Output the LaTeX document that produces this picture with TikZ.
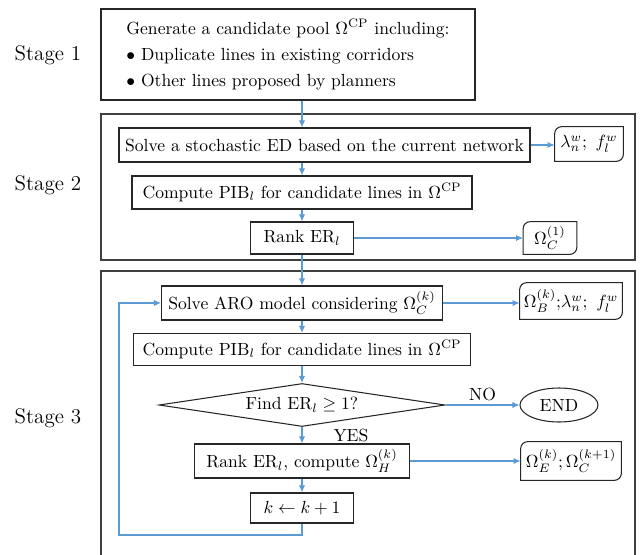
\documentclass[tikz,border=0pt]{standalone}
\usepackage{amsmath, amsfonts, amssymb}
\usepackage{tikz}
\usetikzlibrary{shapes.geometric, positioning, arrows.meta}
\definecolor{flowblue}{RGB}{91,155,213}

\begin{document}
\begin{tikzpicture}[
        every node/.style={inner sep=2pt},
        proc/.style={draw=black!85, line width=0.6pt, minimum height=0.68cm},
        outbox/.style={minimum height=0.68cm},
        flow/.style={draw=flowblue, line width=0.6pt, -{Latex[length=4pt,width=3.5pt]}},
        stage/.style={draw=black!75, line width=0.7pt},
        stagelabel/.style={font=\large}]

            \useasboundingbox (0,0) rectangle (12.8,11.08);

            % Stage frames
            \draw[stage] (2.02,5.88) rectangle (12.7,8.8);
            \draw[stage] (2.02,-0.1) -- (2.02,5.66) -- (12.7,5.66) -- (12.7,-0.1);

            % Stage labels
            \node[stagelabel] (s1) at (0.96,9.98) {Stage 1};
            \node[stagelabel] (s2) at (0.96,7.38) {Stage 2};
            \node[stagelabel] (s3) at (0.96,2.72) {Stage 3};

            % Stage 1
            \node[proc, align=left, minimum width=7.48cm, minimum height=1.82cm] (pool) at (5.76,9.99)
                {Generate a candidate pool $\Omega^{\mathrm{CP}}$ including:\\[2.8pt]
                 $\bullet$ Duplicate lines in existing corridors\\[2.8pt]
                 $\bullet$ Other lines proposed by planners};

            % Stage 2
            \node[proc, minimum width=8.22cm] (ed) at (6.49,8.18) {Solve a stochastic ED based on the current network};
            \node[outbox, minimum width=1.36cm] (lam) at (11.78,8.2) {$\lambda_n^w;\ f_l^w$};
            \node[proc, minimum width=6.8cm, minimum height=0.66cm] (pib2) at (6.04,7.23) {Compute PIB$_l$ for candidate lines in $\Omega^{\mathrm{CP}}$};
            \node[proc, minimum width=2.06cm, minimum height=0.64cm] (rank1) at (6.04,6.32) {Rank ER$_l$};
            \node[outbox, minimum width=1.06cm, minimum height=0.64cm] (omc) at (11.0,6.32) {$\Omega_C^{(1)}$};

            % Stage 3
            \node[proc, minimum width=5.62cm] (aro) at (6.04,5.02) {Solve ARO model considering $\Omega_C^{(k)}$};
            \node[outbox, minimum width=2.04cm, minimum height=0.72cm] (omb) at (11.42,5.06) {$\Omega_B^{(k)};\!\lambda_n^w;\ f_l^w$};
            \node[proc, minimum width=6.74cm, minimum height=0.64cm] (pib3) at (6.04,4.09) {Compute PIB$_l$ for candidate lines in $\Omega^{\mathrm{CP}}$};
            \node[draw=black!85, line width=0.6pt, diamond, aspect=6.6, inner sep=0pt,
                  minimum width=5.72cm, minimum height=0.86cm] (dec) at (6.04,2.98) {Find ER$_l \geq 1$?};
            \node[draw=black!85, line width=0.6pt, ellipse, minimum width=1.56cm, minimum height=0.68cm] (stop) at (11.18,2.98) {END};
            \node[proc, minimum width=4.3cm] (rankc) at (6.04,1.86) {Rank ER$_l$, compute $\Omega_H^{(k)}$};
            \node[outbox, minimum width=2.0cm, minimum height=0.76cm] (ome) at (11.42,1.86) {$\Omega_E^{(k)};\Omega_C^{(k+1)}$};
            \node[proc, minimum width=2.06cm, minimum height=0.6cm] (kbox) at (6.04,0.92) {$k \leftarrow k+1$};
            \coordinate (back) at (2.38,0.38);

            % Output boxes: two rounded corners
            \foreach \outname in {lam, omc, omb, ome}
                \draw[black!85, line width=0.6pt] (\outname.south west) -- ([yshift=-4pt]\outname.north west)
                    arc[start angle=180, end angle=90, radius=4pt] -- (\outname.north east)
                    -- ([yshift=4pt]\outname.south east)
                    arc[start angle=0, end angle=-90, radius=4pt] -- cycle;

            % Edges
            \draw[flow] (pool.south -| pib2) -- (ed.north -| pib2);
            \draw[flow] (ed.east) -- (ed.east -| lam.west);
            \draw[flow] (ed.south -| pib2) -- (pib2.north);
            \draw[flow] (pib2) -- (rank1);
            \draw[flow] (rank1.east) -- (rank1.east -| omc.west);
            \draw[flow] (rank1) -- (aro);
            \draw[flow] (aro.east) -- (aro.east -| omb.west);
            \draw[flow] (aro) -- (pib3);
            \draw[flow] (pib3) -- (dec);
            \draw[flow] (dec.east) -- node[above] (no) {NO} (dec.east -| stop.west);
            \draw[flow] (dec) -- node[right=0.55cm] (yes) {YES} (rankc);
            \draw[flow] (rankc.east) -- (rankc.east -| ome.west);
            \draw[flow] (rankc) -- (kbox);
            \draw[flow] (kbox.south) |- (back) |- (aro.west);
        \end{tikzpicture}
\end{document}
